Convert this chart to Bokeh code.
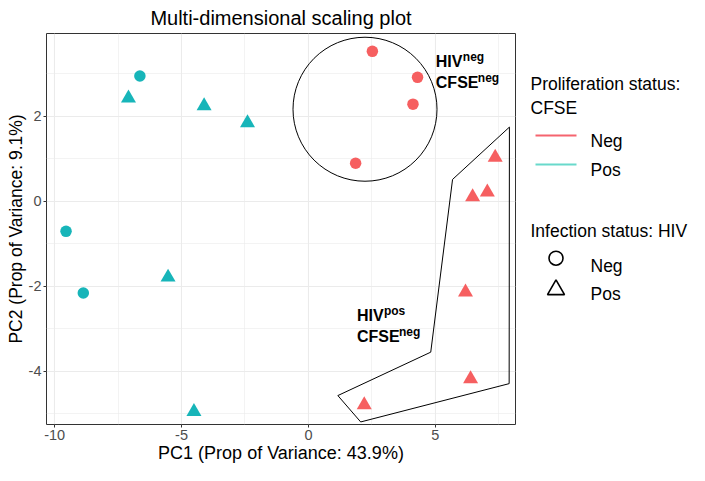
from bokeh.plotting import figure
from bokeh.layouts import row
from bokeh.models import ColumnDataSource, FixedTicker, Range1d
from bokeh.core.properties import value
from bokeh.embed import file_html
from bokeh.resources import INLINE

# ---------------- data ----------------
pc1 = [2.52, 4.30, 4.12, 1.86,
       7.36, 6.47, 7.05, 6.19, 6.39, 2.20,
       -6.64, -9.55, -8.87,
       -7.09, -4.11, -2.40, -5.53, -4.51]
pc2 = [3.52, 2.91, 2.28, 0.89,
       1.03, 0.10, 0.21, -2.14, -4.18, -4.79,
       2.94, -0.71, -2.16,
       2.42, 2.24, 1.84, -1.79, -4.95]
cfse = ["Neg"] * 4 + ["Neg"] * 6 + ["Pos"] * 3 + ["Pos"] * 5
hiv = ["Neg"] * 4 + ["Pos"] * 6 + ["Neg"] * 3 + ["Pos"] * 5

x_ticks = [-10, -5, 0, 5]
x_tick_labels = ["-10", "-5", "0", "5"]
x_minor = [-7.5, -2.5, 2.5, 7.5]
y_ticks = [-4, -2, 0, 2]
y_tick_labels = ["-4", "-2", "0", "2"]
y_minor = [-5, -3, -1, 1, 3]

levels = ["Neg", "Pos"]
color_title = ["Proliferation status:", "CFSE"]
shape_title = ["Infection status: HIV"]

# annotation shapes (data coordinates)
circle_cx = [2.23]
circle_cy = [2.16]
poly_x = [7.92, 5.68, 4.82, 1.16, 2.06, 7.91]
poly_y = [1.74, 0.51, -3.55, -4.57, -5.19, -4.29]

lab_x = [5.02, 5.02, 1.91, 1.91]
lab_y = [3.276, 2.79, -2.68, -3.17]
lab_main = ["HIV", "CFSE", "HIV", "CFSE"]
lab_sup = ["neg", "neg", "pos", "neg"]

# ---------------- styling ----------------
FONT = "Liberation Sans"
col_pt = {"Neg": "#F65F60", "Pos": "#17B5B9"}
col_leg = {"Neg": "#F5646F", "Pos": "#69D9CB"}
marker_of = {"Neg": "circle", "Pos": "triangle"}
size_of = {"Neg": 11.5, "Pos": 15}

W_MAIN = 517
H = 465
B_TOP = 33
B_BOTTOM = 41

p = figure(width=W_MAIN, height=H, output_backend="svg", toolbar_location=None,
           x_range=Range1d(-10.32, 8.16), y_range=Range1d(-5.25, 3.94),
           title="Multi-dimensional scaling plot",
           min_border_left=46, min_border_right=2,
           min_border_top=B_TOP, min_border_bottom=B_BOTTOM,
           background_fill_color="white", border_fill_color="white")

p.title.text_font = FONT
p.title.text_font_size = "20px"
p.title.text_font_style = "normal"
p.title.align = "center"
p.title.vertical_align = "bottom"
p.title.standoff = 9
p.title.text_color = "black"

p.outline_line_color = "#333333"
p.outline_line_width = 1

p.xaxis.ticker = FixedTicker(ticks=x_ticks, minor_ticks=x_minor)
p.yaxis.ticker = FixedTicker(ticks=y_ticks, minor_ticks=y_minor)
p.xaxis.major_label_overrides = {t: l for t, l in zip(x_ticks, x_tick_labels)}
p.yaxis.major_label_overrides = {t: l for t, l in zip(y_ticks, y_tick_labels)}
p.xaxis.axis_label = "PC1 (Prop of Variance: 43.9%)"
p.yaxis.axis_label = "PC2 (Prop of Variance: 9.1%)"

for ax in (p.xaxis[0], p.yaxis[0]):
    ax.axis_line_color = None
    ax.major_tick_line_color = "#333333"
    ax.major_tick_out = 3
    ax.major_tick_in = 0
    ax.minor_tick_line_color = None
    ax.major_label_text_font = FONT
    ax.major_label_text_font_size = "14.5px"
    ax.major_label_text_color = "#4D4D4D"
    ax.major_label_standoff = 1
    ax.axis_label_text_font = FONT
    ax.axis_label_text_font_size = "18px"
    ax.axis_label_text_font_style = "normal"
    ax.axis_label_text_color = "black"
    ax.axis_label_standoff = 0
p.yaxis[0].axis_label_text_font_size = "17.5px"

for g in (p.xgrid[0], p.ygrid[0]):
    g.grid_line_color = "#EBEBEB"
    g.grid_line_width = 1.1
    g.minor_grid_line_color = "#EBEBEB"
    g.minor_grid_line_width = 0.6

# ---------------- points ----------------
src = ColumnDataSource(dict(
    x=pc1, y=pc2,
    color=[col_pt[c] for c in cfse],
    marker=[marker_of[h] for h in hiv],
    size=[size_of[h] for h in hiv],
))
p.scatter("x", "y", source=src, marker="marker", size="size",
          fill_color="color", line_color="color", line_width=0)

# ---------------- annotations ----------------
p.circle(x=circle_cx, y=circle_cy, radius=72, radius_units="screen",
         fill_color=None, line_color="black", line_width=1)
p.patch(poly_x, poly_y, fill_color=None, line_color="black", line_width=1)

lab_src = ColumnDataSource(dict(x=lab_x, y=lab_y, main=lab_main, sup=lab_sup,
                                xo=[27, 42, 27, 42]))
p.text("x", "y", text="main", source=lab_src, text_font=value(FONT),
       text_font_style="bold", text_font_size="16px",
       text_baseline="alphabetic", text_align="left", text_color="black")
p.text("x", "y", text="sup", source=lab_src, x_offset="xo", y_offset=-4.5,
       text_font=value(FONT), text_font_style="bold", text_font_size="12px",
       text_baseline="alphabetic", text_align="left", text_color="black")

# ---------------- legend panel (pixel coordinates, y downwards) ----------------
W_LEG = 689 - W_MAIN
lg = figure(width=W_LEG, height=H, output_backend="svg", toolbar_location=None,
            x_range=Range1d(0, W_LEG), y_range=Range1d(H - B_BOTTOM, B_TOP),
            x_axis_type=None, y_axis_type=None,
            min_border_left=0, min_border_right=0,
            min_border_top=B_TOP, min_border_bottom=B_BOTTOM,
            outline_line_color=None, background_fill_color="white",
            border_fill_color="white")

LEG_FS = "17.5px"
X0 = 530 - W_MAIN          # left edge of legend titles (canvas x = 530)
TITLE_X = X0
GLYPH_X0, GLYPH_X1 = X0 + 5, X0 + 46
GLYPH_XC = (GLYPH_X0 + GLYPH_X1) / 2
ITEM_TX = X0 + 60

# colour legend
lg.text(x=[TITLE_X] * len(color_title), y=[83.3, 107.3], text=color_title,
        text_font=value(FONT), text_font_size=LEG_FS,
        text_baseline="alphabetic", text_color="black")
for lv, ly, tb in zip(levels, [135.0, 164.0], [140.7, 169.3]):
    lg.line(x=[GLYPH_X0, GLYPH_X1], y=[ly, ly], line_color=col_leg[lv],
            line_width=2.2)
    lg.text(x=[ITEM_TX], y=[tb], text=[lv], text_font=value(FONT),
            text_font_size=LEG_FS, text_baseline="alphabetic",
            text_color="black")

# shape legend
lg.text(x=[TITLE_X], y=[230.7], text=shape_title, text_font=value(FONT),
        text_font_size=LEG_FS, text_baseline="alphabetic", text_color="black")
for lv, my, ms, tb in zip(levels, [257.7, 289.2], [14, 17], [265.0, 293.3]):
    lg.scatter(x=[GLYPH_XC], y=[my], marker=marker_of[lv], size=ms,
               fill_color=None, line_color="black", line_width=1.6)
    lg.text(x=[ITEM_TX], y=[tb], text=[lv], text_font=value(FONT),
            text_font_size=LEG_FS, text_baseline="alphabetic",
            text_color="black")

layout = row(p, lg)
open("out.html", "w").write(file_html(layout, INLINE))
